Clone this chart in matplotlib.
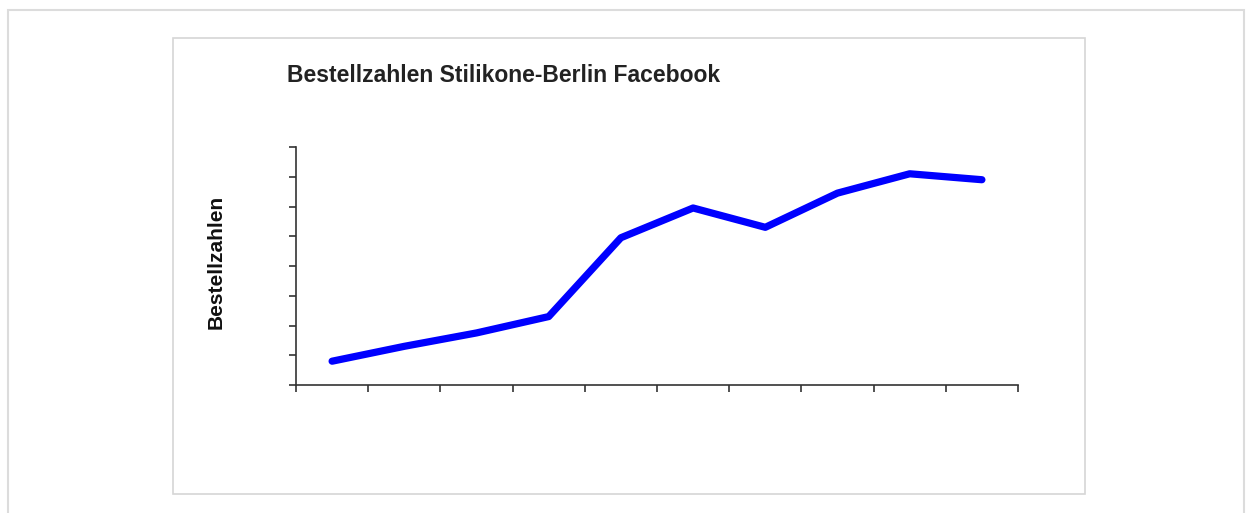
import matplotlib.pyplot as plt
from matplotlib.patches import Rectangle

# values (no axis labels in the original, scale arbitrary)
periods = list(range(10))
orders = [8, 13, 17.5, 23, 49.5, 59.5, 53, 64.5, 71, 69]
y_ticks = [0, 10, 20, 30, 40, 50, 60, 70, 80]

title = 'Bestellzahlen Stilikone-Berlin Facebook'
y_label = 'Bestellzahlen'

W, H = 1252, 513
plt.rcParams['font.family'] = ['Liberation Sans', 'DejaVu Sans']

fig = plt.figure(figsize=(W / 100, H / 100), dpi=100)
fig.patch.set_facecolor('white')

# outer frame of the page and the chart area box
fig.patches.append(Rectangle((8 / W, -0.1), (1244 - 8) / W, 1.1 - 10 / H,
                             transform=fig.transFigure, fill=False,
                             edgecolor='#dcdcdc', linewidth=1.5))
fig.patches.append(Rectangle((173 / W, (H - 494) / H), (1085 - 173) / W, (494 - 38) / H,
                             transform=fig.transFigure, fill=False,
                             edgecolor='#d6d6d6', linewidth=1.2))

ax = fig.add_axes([296 / W, (H - 385) / H, (1018 - 296) / W, (385 - 147) / H])
ax.plot(periods, orders, color='#0000ff', linewidth=5.2, solid_capstyle='round',
        solid_joinstyle='round')

ax.set_xlim(-0.5, 9.5)
ax.set_ylim(0, 80)
ax.set_xticks([p - 0.5 for p in periods] + [9.5])
ax.set_yticks(y_ticks)
ax.set_xticklabels([])
ax.set_yticklabels([])

for side in ['top', 'right']:
    ax.spines[side].set_visible(False)
for side in ['left', 'bottom']:
    ax.spines[side].set_color('#333333')
    ax.spines[side].set_linewidth(1.2)
ax.tick_params(direction='out', length=5, width=1.2, color='#333333')

fig.text(287 / W, (H - 75) / H, title, fontsize=16.5, fontweight='bold',
         color='#222222', ha='left', va='center')
fig.text(216 / W, (H - 262) / H, y_label, fontsize=15, fontweight='bold',
         color='#111111', rotation=90, ha='center', va='center')

plt.savefig('out.png', dpi=100)
